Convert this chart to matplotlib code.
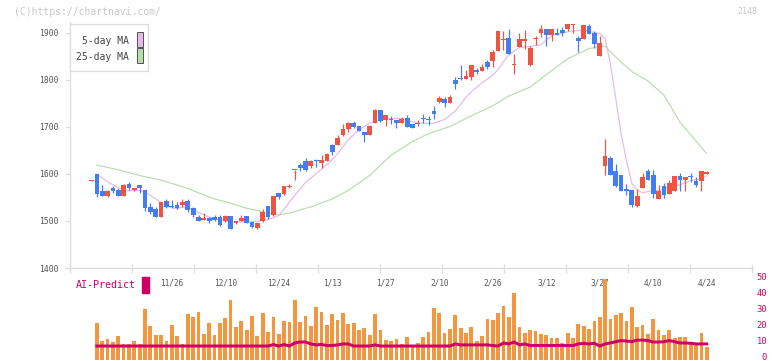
"""
plot.py
Candlestick chart with 5/25-day moving averages and a volume / AI-Predict panel.
"""

import matplotlib

matplotlib.use("Agg")
import matplotlib.pyplot as plt  # noqa: E402
from matplotlib import transforms  # noqa: E402
from matplotlib.patches import Rectangle  # noqa: E402

# ---- data ----
opens = [1585, 1599, 1564, 1554, 1570, 1566, 1554, 1579, 1567, 1577,
         1566, 1530, 1525, 1509, 1542, 1532, 1535, 1533, 1543, 1528,
         1509, 1503, 1506, 1509, 1508, 1499, 1511, 1495, 1500, 1511,
         1498, 1485, 1499, 1532, 1513, 1559, 1557, 1573, 1608, 1619,
         1628, 1617, 1628, 1623, 1628, 1662, 1662, 1683, 1696, 1708,
         1702, 1689, 1684, 1708, 1736, 1715, 1716, 1715, 1708, 1719,
         1706, 1707, 1718, 1716, 1734, 1753, 1760, 1751, 1799, 1804,
         1802, 1807, 1821, 1819, 1838, 1840, 1862, 1886, 1889, 1831,
         1870, 1884, 1832, 1888, 1900, 1909, 1896, 1900, 1906, 1909,
         1916, 1889, 1887, 1915, 1900, 1851, 1618, 1634, 1606, 1598,
         1568, 1566, 1532, 1570, 1606, 1598, 1547, 1575, 1558, 1564,
         1596, 1587, 1595, 1585, 1585, 1600]
highs = [1587, 1600, 1577, 1566, 1574, 1570, 1579, 1583, 1571, 1577,
         1567, 1538, 1530, 1541, 1547, 1545, 1540, 1546, 1547, 1530,
         1513, 1518, 1509, 1513, 1513, 1513, 1511, 1499, 1513, 1511,
         1498, 1498, 1526, 1532, 1553, 1559, 1574, 1579, 1609, 1623,
         1634, 1630, 1632, 1640, 1645, 1664, 1683, 1706, 1711, 1713,
         1702, 1689, 1704, 1738, 1736, 1725, 1723, 1715, 1721, 1725,
         1706, 1715, 1728, 1723, 1745, 1765, 1764, 1768, 1806, 1832,
         1821, 1832, 1825, 1834, 1843, 1864, 1904, 1904, 1909, 1855,
         1900, 1906, 1872, 1893, 1917, 1909, 1909, 1911, 1913, 1919,
         1919, 1894, 1917, 1919, 1904, 1894, 1675, 1638, 1621, 1598,
         1579, 1566, 1568, 1602, 1611, 1609, 1577, 1581, 1587, 1596,
         1602, 1594, 1602, 1594, 1606, 1606]
lows = [1585, 1550, 1554, 1550, 1559, 1554, 1554, 1567, 1563, 1560,
        1522, 1515, 1509, 1509, 1528, 1528, 1525, 1530, 1520, 1508,
        1499, 1503, 1496, 1500, 1490, 1497, 1484, 1493, 1499, 1495,
        1485, 1483, 1498, 1505, 1511, 1547, 1556, 1570, 1587, 1606,
        1606, 1613, 1615, 1613, 1628, 1640, 1662, 1681, 1690, 1698,
        1691, 1668, 1684, 1708, 1711, 1702, 1706, 1698, 1708, 1700,
        1698, 1702, 1709, 1704, 1717, 1751, 1742, 1751, 1781, 1800,
        1802, 1799, 1813, 1819, 1823, 1828, 1862, 1864, 1855, 1813,
        1870, 1866, 1830, 1874, 1892, 1872, 1883, 1896, 1894, 1904,
        1900, 1860, 1887, 1898, 1868, 1851, 1598, 1598, 1572, 1564,
        1555, 1530, 1530, 1570, 1587, 1549, 1547, 1549, 1558, 1564,
        1564, 1564, 1583, 1572, 1564, 1600]
closes = [1587, 1558, 1554, 1564, 1564, 1554, 1577, 1570, 1568, 1570,
          1528, 1520, 1509, 1540, 1530, 1529, 1528, 1540, 1523, 1512,
          1499, 1506, 1499, 1502, 1492, 1511, 1484, 1499, 1506, 1495,
          1488, 1496, 1519, 1509, 1553, 1551, 1574, 1574, 1609, 1613,
          1608, 1628, 1627, 1630, 1643, 1647, 1677, 1696, 1708, 1700,
          1691, 1682, 1702, 1736, 1713, 1725, 1715, 1708, 1717, 1700,
          1698, 1708, 1717, 1715, 1728, 1762, 1751, 1763, 1792, 1803,
          1808, 1832, 1817, 1828, 1828, 1860, 1904, 1887, 1855, 1832,
          1887, 1885, 1868, 1889, 1909, 1896, 1909, 1896, 1900, 1919,
          1917, 1883, 1917, 1898, 1877, 1879, 1638, 1598, 1575, 1564,
          1564, 1534, 1553, 1594, 1587, 1558, 1564, 1555, 1581, 1596,
          1587, 1594, 1594, 1577, 1606, 1604]

ma5_idx = [1, 3, 5, 7, 9, 10, 12, 14, 16, 17, 19, 20, 22, 24, 26, 28, 30, 32,
           34, 35, 36, 38, 40, 42, 44, 46, 48, 50, 52, 54, 56, 58, 60, 62, 64,
           66, 68, 70, 71, 73, 75, 76, 78, 80, 82, 84, 86, 88, 90, 92, 94, 95,
           96, 97, 98, 99, 100, 101, 102, 103, 105, 106, 108, 110, 112, 114, 115]
ma5_val = [1600, 1583, 1571, 1564, 1565, 1562, 1547, 1531, 1526, 1530, 1526,
           1518, 1508, 1502, 1498, 1498, 1499, 1500, 1507, 1512, 1525, 1555,
           1582, 1601, 1620, 1643, 1673, 1694, 1708, 1716, 1718, 1718, 1711,
           1708, 1708, 1716, 1734, 1763, 1775, 1794, 1810, 1823, 1854, 1869,
           1871, 1875, 1894, 1900, 1905, 1906, 1901, 1899, 1888, 1835, 1760,
           1685, 1628, 1580, 1566, 1560, 1565, 1564, 1572, 1577, 1586, 1590,
           1596]

ma25_idx = [1, 5, 10, 13, 15, 18, 20, 23, 26, 29, 31, 33, 35, 37, 41, 45, 48,
            52, 56, 60, 63, 67, 71, 75, 78, 82, 86, 89, 93, 96, 97, 99, 101,
            104, 107, 110, 113, 115]
ma25_val = [1619, 1609, 1594, 1587, 1580, 1569, 1560, 1547, 1538, 1527, 1522,
            1517, 1513, 1517, 1530, 1547, 1565, 1597, 1640, 1669, 1686, 1701,
            1724, 1745, 1766, 1785, 1820, 1845, 1867, 1872, 1860, 1838, 1818,
            1798, 1768, 1710, 1670, 1643]

# volume and AI-Predict start at the second candle
volume = [21.7, 10.5, 11.7, 9.8, 13.6, 8.6, 8.6, 10.5, 8.6, 30.5,
          19.8, 14.2, 14.2, 10.5, 20.5, 13.6, 8.6, 27.4, 25.5, 28.6,
          14.9, 21.7, 14.2, 21.7, 24.9, 36.1, 19.2, 23.0, 17.3, 26.1,
          13.6, 28.0, 16.1, 25.5, 14.9, 23.0, 22.4, 36.1, 22.4, 26.1,
          19.8, 31.7, 28.6, 20.5, 27.4, 23.6, 28.0, 21.1, 21.7, 17.3,
          18.6, 14.2, 27.4, 17.3, 11.1, 10.5, 11.7, 8.6, 13.0, 6.5,
          9.2, 13.0, 16.1, 31.1, 28.0, 15.5, 18.0, 26.7, 18.6, 15.5,
          19.2, 10.5, 13.6, 24.2, 23.6, 28.0, 32.4, 25.5, 40.5, 19.2,
          15.5, 17.4, 16.7, 14.9, 14.2, 12.4, 12.4, 9.2, 15.5, 12.4,
          21.1, 19.8, 18.0, 23.0, 25.5, 49.0, 24.2, 26.7, 28.0, 23.0,
          31.7, 19.2, 20.5, 14.9, 24.2, 17.4, 14.2, 17.4, 12.4, 13.0,
          13.0, 9.2, 8.0, 15.5, 6.7]
ai_predict = [7.3, 7.3, 7.3, 7.3, 7.3, 7.3, 7.3, 7.3, 7.3, 7.3,
              7.3, 7.3, 7.3, 7.3, 7.3, 7.3, 7.3, 7.3, 7.3, 7.3,
              7.3, 7.3, 7.3, 7.3, 7.3, 7.3, 7.3, 7.3, 7.3, 7.3,
              7.3, 7.3, 7.3, 8.2, 7.3, 8.2, 7.3, 9.2, 9.8, 9.8,
              8.6, 8.0, 8.3, 7.6, 7.6, 8.0, 8.6, 8.6, 7.3, 7.3,
              7.3, 7.3, 8.0, 7.3, 7.3, 7.3, 7.3, 7.3, 7.3, 7.3,
              7.3, 7.3, 7.3, 7.3, 7.3, 7.3, 7.3, 8.6, 8.0, 8.0,
              8.0, 8.0, 8.0, 8.0, 7.6, 7.3, 9.2, 8.6, 9.8, 8.0,
              8.6, 7.6, 7.6, 7.6, 7.6, 7.6, 7.6, 7.6, 7.6, 7.6,
              8.6, 9.0, 8.6, 9.0, 7.3, 8.6, 9.2, 10.0, 10.7, 10.4,
              10.0, 11.0, 11.0, 10.7, 9.8, 9.8, 10.0, 10.7, 10.0, 9.2,
              9.2, 9.0, 8.6, 8.6, 8.6]

date_idx = [15, 25, 35, 45, 55, 65, 75, 85, 95, 105, 115]
date_labels = ["11/26", "12/10", "12/24", "1/13", "1/27", "2/10",
               "2/26", "3/12", "3/27", "4/10", "4/24"]
price_ticks = [1400, 1500, 1600, 1700, 1800, 1900]
vol_ticks = [0, 10, 20, 30, 40, 50]

# ---- style ----
W, H = 772, 361
FONT = "DejaVu Sans Mono"
UP, DOWN = "#ef5441", "#437ef0"
MA5_C, MA25_C = "#e8b8e8", "#b8ddac"
VOL_C = "#f2963f"
AI_C = "#cc0066"
AXIS_C = "#dddddd"
PX = 72 / 100  # one pixel in points at dpi 100

plt.rcParams["font.family"] = [FONT, "DejaVu Sans"]


def fx(px):
    return px / W


def fy(py):
    return 1 - py / H


fig = plt.figure(figsize=(W / 100, H / 100), dpi=100)
fig.patch.set_facecolor("white")

x_lo, x_hi = -4.02, 123.46

# ---- price panel ----
ax = fig.add_axes([fx(70), fy(268), fx(752) - fx(70), fy(22) - fy(268)])
ax.set_xlim(x_lo, x_hi)
ax.set_ylim(1400, 1923.4)
for s in ("top", "right"):
    ax.spines[s].set_visible(False)
for s in ("left", "bottom"):
    ax.spines[s].set_color(AXIS_C)
    ax.spines[s].set_linewidth(1.3 * PX)

ax.plot(ma25_idx, ma25_val, color=MA25_C, lw=0.85, zorder=2)
ax.plot(ma5_idx, ma5_val, color=MA5_C, lw=0.85, zorder=2)

n = len(opens)
xs = list(range(n))
body_bottom = [min(o, c) for o, c in zip(opens, closes)]
body_height = [max(abs(c - o), 2.2) for o, c in zip(opens, closes)]
colors = [UP if c >= o else DOWN for o, c in zip(opens, closes)]
ax.vlines(xs, lows, highs, colors=colors, lw=1.2 * PX, zorder=3)
ax.bar(xs, body_height, bottom=body_bottom, width=0.88, color=colors,
       linewidth=0, zorder=4)

ax.set_yticks(price_ticks)
ax.set_yticklabels([str(t) for t in price_ticks])
ax.tick_params(axis="y", length=5 * PX, width=1.3 * PX, color=AXIS_C,
               pad=6 * PX, labelsize=5.8, labelcolor="#555555")
x_ticks = [x_lo + k * (x_hi - x_lo) / 11 for k in range(12)]
ax.set_xticks(x_ticks)
ax.set_xticklabels([])
ax.tick_params(axis="x", direction="inout", length=9 * PX, width=1.3 * PX,
               color=AXIS_C)

# date labels sit under the axis line
date_tr = transforms.blended_transform_factory(ax.transData, fig.transFigure)
for i, lab in zip(date_idx, date_labels):
    ax.text(i, fy(283), lab, transform=date_tr, ha="center", va="center",
            fontsize=5.6, color="#555555", clip_on=False)

# ---- volume / AI-Predict panel ----
vax = fig.add_axes([fx(70), 0, fx(752) - fx(70), fy(270)])
vax.set_xlim(x_lo, x_hi)
vax.set_ylim(-2.06, 54.8)
vax.axis("off")
vol_x = list(range(1, n))
base = -1.2
vax.bar(vol_x, [v - base for v in volume], bottom=base, width=0.7,
        color=VOL_C, linewidth=0, zorder=1)
vax.plot(vol_x, ai_predict, color=AI_C, lw=3 * PX, zorder=2,
         solid_joinstyle="round")

vol_tr = transforms.blended_transform_factory(fig.transFigure, vax.transData)
for t in vol_ticks:
    vax.text(fx(767), t, str(t), transform=vol_tr, ha="right", va="center",
             fontsize=6.3, color=AI_C, clip_on=False)

fig.text(fx(76), fy(285), "AI-Predict", ha="left", va="center",
         fontsize=7.2, color=AI_C)
fig.patches.append(Rectangle((fx(142), fy(293)), fx(7), 16 / H,
                             transform=fig.transFigure, color=AI_C))

# ---- legend box ----
fig.patches.append(Rectangle((fx(70), fy(71)), fx(78), 47 / H,
                             transform=fig.transFigure, facecolor="white",
                             edgecolor=AXIS_C, lw=1.3 * PX, zorder=5))
fig.text(fx(129), fy(41.5), "5-day MA", ha="right", va="center",
         fontsize=7, color="#444444", zorder=6)
fig.text(fx(129), fy(57), "25-day MA", ha="right", va="center",
         fontsize=7, color="#444444", zorder=6)
fig.patches.append(Rectangle((fx(136.5), fy(47)), fx(6), 15 / H,
                             transform=fig.transFigure, facecolor=MA5_C,
                             edgecolor="#555555", lw=1.0 * PX, zorder=6))
fig.patches.append(Rectangle((fx(136.5), fy(63)), fx(6), 15 / H,
                             transform=fig.transFigure, facecolor=MA25_C,
                             edgecolor="#555555", lw=1.0 * PX, zorder=6))

# ---- header texts ----
fig.text(fx(14), fy(12), "(C)https://chartnavi.com/", ha="left", va="center",
         fontsize=7, color="#c8c8c8")
fig.text(fx(757), fy(12), "2148", ha="right", va="center",
         fontsize=6, color="#c8c8c8")

fig.savefig("out.png", dpi=100, facecolor="white")
